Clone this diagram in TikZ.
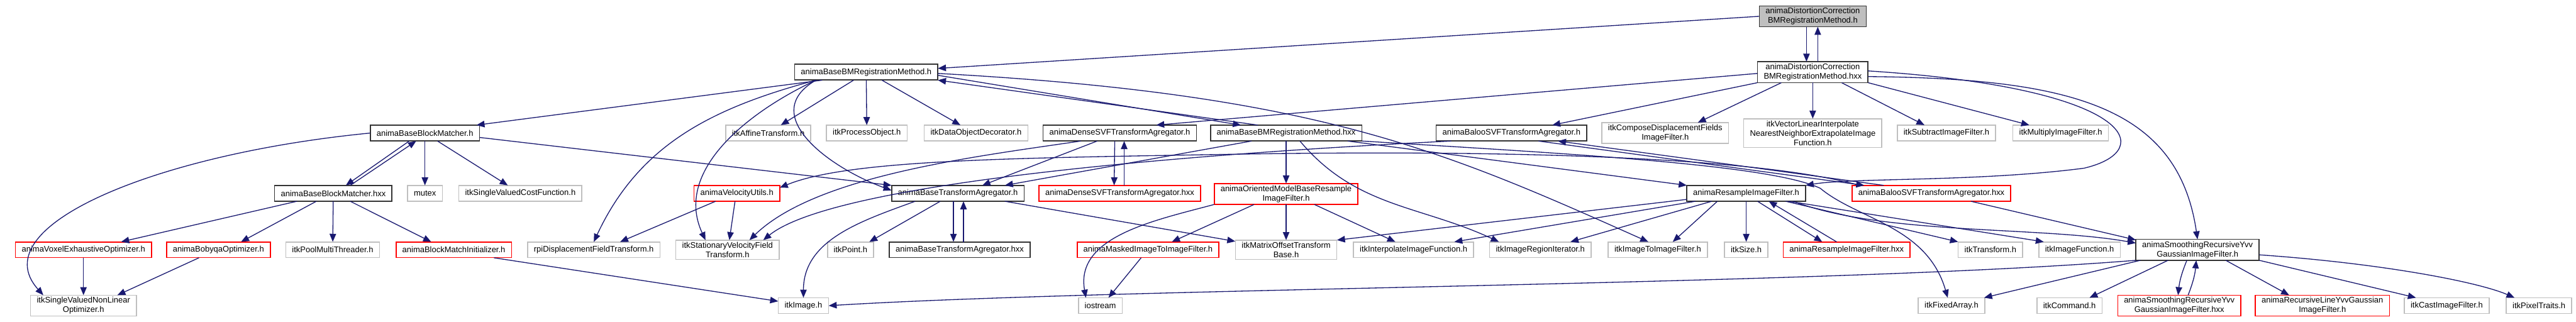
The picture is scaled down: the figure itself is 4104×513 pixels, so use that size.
\documentclass[tikz,border=0pt]{standalone}
\usepackage{fontspec}
\setmainfont{Liberation Sans}
\usetikzlibrary{arrows.meta}

\definecolor{edgeblue}{HTML}{191970}
\definecolor{extgray}{HTML}{BFBFBF}
\definecolor{rootgray}{HTML}{BFBFBF}

\begin{document}
\begin{tikzpicture}[x=1pt,y=1pt,scale=0.25,every node/.style={transform shape}]
\tikzset{
  filenode/.style={draw,line width=0.4pt,minimum height=25pt,inner xsep=10pt,inner ysep=3pt,
    font=\fontsize{13}{15}\selectfont,align=center,fill=white},
  rootnode/.style={filenode,fill=rootgray,draw=black!80},
  mainnode/.style={filenode,draw=black!80},
  extnode/.style={filenode,draw=extgray},
  cutnode/.style={filenode,draw=red},
  inc/.style={draw=edgeblue,line width=0.33pt,-{Triangle[length=3.2pt,width=2.6pt]}}
}
\useasboundingbox (0,0) rectangle (4104,-513);

% row 0 and 1
\node[rootnode] (n_dch) at (2888,-26) {animaDistortionCorrection\\BMRegistrationMethod.h};
\node[mainnode] (n_dchxx) at (2888,-115) {animaDistortionCorrection\\BMRegistrationMethod.hxx};
\node[mainnode] (n_basebmh) at (1380,-115) {animaBaseBMRegistrationMethod.h};

% row 2
\node[mainnode] (n_bbmh) at (677,-212) {animaBaseBlockMatcher.h};
\node[extnode] (n_affine) at (1224,-212) {itkAffineTransform.h};
\node[extnode] (n_procobj) at (1381,-212) {itkProcessObject.h};
\node[extnode] (n_dataobj) at (1555,-212) {itkDataObjectDecorator.h};
\node[mainnode] (n_densesvfh) at (1784,-212) {animaDenseSVFTransformAgregator.h};
\node[mainnode] (n_basebmhxx) at (2049,-212) {animaBaseBMRegistrationMethod.hxx};
\node[mainnode] (n_baloosvfh) at (2408,-212) {animaBalooSVFTransformAgregator.h};
\node[extnode] (n_compose) at (2653,-212) {itkComposeDisplacementFields\\ImageFilter.h};
\node[extnode] (n_vectorlin) at (2888,-212) {itkVectorLinearInterpolate\\NearestNeighborExtrapolateImage\\Function.h};
\node[extnode] (n_subtract) at (3101,-212) {itkSubtractImageFilter.h};
\node[extnode] (n_multiply) at (3283,-212) {itkMultiplyImageFilter.h};

% row 3
\node[mainnode] (n_bbmhxx) at (531,-308) {animaBaseBlockMatcher.hxx};
\node[extnode] (n_mutex) at (677,-308) {mutex};
\node[extnode] (n_costfn) at (829,-308) {itkSingleValuedCostFunction.h};
\node[cutnode] (n_velutils) at (1174,-308) {animaVelocityUtils.h};
\node[mainnode] (n_basetah) at (1526,-308) {animaBaseTransformAgregator.h};
\node[cutnode] (n_densesvfhxx) at (1784,-308) {animaDenseSVFTransformAgregator.hxx};
\node[cutnode] (n_oriented) at (2049,-309) {animaOrientedModelBaseResample\\ImageFilter.h};
\node[mainnode] (n_resampleh) at (2782,-308) {animaResampleImageFilter.h};
\node[cutnode] (n_baloohxx) at (3077,-308) {animaBalooSVFTransformAgregator.hxx};

% row 4
\node[cutnode] (n_voxel) at (133,-398) {animaVoxelExhaustiveOptimizer.h};
\node[cutnode] (n_bobyqa) at (348,-398) {animaBobyqaOptimizer.h};
\node[extnode] (n_poolmt) at (530,-398) {itkPoolMultiThreader.h};
\node[cutnode] (n_bminit) at (723,-398) {animaBlockMatchInitializer.h};
\node[extnode] (n_rpi) at (946,-398) {rpiDisplacementFieldTransform.h};
\node[extnode] (n_svf) at (1159,-398) {itkStationaryVelocityField\\Transform.h};
\node[extnode] (n_point) at (1355,-398) {itkPoint.h};
\node[mainnode] (n_basetahxx) at (1529,-398) {animaBaseTransformAgregator.hxx};
\node[cutnode] (n_masked) at (1829,-398) {animaMaskedImageToImageFilter.h};
\node[extnode] (n_matrixoff) at (2049,-398) {itkMatrixOffsetTransform\\Base.h};
\node[extnode] (n_interp) at (2252,-398) {itkInterpolateImageFunction.h};
\node[extnode] (n_regioniter) at (2454,-398) {itkImageRegionIterator.h};
\node[extnode] (n_imgtoimg) at (2641,-398) {itkImageToImageFilter.h};
\node[extnode] (n_size) at (2782,-398) {itkSize.h};
\node[cutnode] (n_resamplehxx) at (2942,-398) {animaResampleImageFilter.hxx};
\node[extnode] (n_transform) at (3171,-398) {itkTransform.h};
\node[extnode] (n_imgfunc) at (3313,-398) {itkImageFunction.h};
\node[mainnode] (n_smoothh) at (3501,-398) {animaSmoothingRecursiveYvv\\GaussianImageFilter.h};

% row 5
\node[extnode] (n_nonlinopt) at (133,-487) {itkSingleValuedNonLinear\\Optimizer.h};
\node[extnode] (n_image) at (1280,-487) {itkImage.h};
\node[extnode] (n_iostream) at (1753,-487) {iostream};
\node[extnode] (n_fixedarray) at (3109,-487) {itkFixedArray.h};
\node[extnode] (n_command) at (3297,-487) {itkCommand.h};
\node[cutnode] (n_smoothhxx) at (3472,-487) {animaSmoothingRecursiveYvv\\GaussianImageFilter.hxx};
\node[cutnode] (n_recline) at (3700,-487) {animaRecursiveLineYvvGaussian\\ImageFilter.h};
\node[extnode] (n_cast) at (3898,-487) {itkCastImageFilter.h};
\node[extnode] (n_pixeltraits) at (4045,-487) {itkPixelTraits.h};

% includes of the distortion correction files
\draw[inc] ([xshift=-10pt]n_dch.south) -- ([xshift=-10pt]n_dchxx.north);
\draw[inc] ([xshift=8pt]n_dchxx.north) -- ([xshift=8pt]n_dch.south);
\draw[inc] (n_dch.west) -- ([yshift=6pt]n_basebmh.east);
\draw[inc] ([yshift=-2pt]n_dchxx.west) -- ([xshift=58pt]n_densesvfh.north);
\draw[inc] (n_dchxx.south west) -- ([xshift=65pt]n_baloosvfh.north);
\draw[inc] ([xshift=-50pt]n_dchxx.south) -- ([xshift=52pt]n_compose.north);
\draw[inc] (n_dchxx) -- (n_vectorlin);
\draw[inc] ([xshift=46pt]n_dchxx.south) -- ([xshift=-35pt]n_subtract.north);
\draw[inc] (n_dchxx.south east) -- ([xshift=-50pt]n_multiply.north);
\draw[inc] ([yshift=-7pt]n_dchxx.east) .. controls (3300,-125) and (3470,-170) .. (n_smoothh.north);
\draw[inc] ([yshift=2pt]n_dchxx.east) .. controls (3400,-140) and (3440,-240) .. (3320,-268)
  .. controls (3150,-290) and (2950,-283) .. (n_resampleh.north east);

% base block matching registration
\draw[inc] ([xshift=-70pt]n_basebmh.south) -- ([xshift=-5pt]n_bbmh.north east);
\draw[inc] ([xshift=-20pt]n_basebmh.south) -- ([xshift=20pt]n_affine.north);
\draw[inc] (n_basebmh) -- (n_procobj);
\draw[inc] ([xshift=25pt]n_basebmh.south) -- ([xshift=-25pt]n_dataobj.north);
\draw[inc] ([yshift=-5pt]n_basebmh.east) -- ([xshift=-72pt]n_basebmhxx.north);
\draw[inc] ([xshift=-45pt]n_basebmhxx.north) -- (n_basebmh.south east);
\draw[inc] ([xshift=-80pt]n_basebmh.south) to[out=195,in=65] (n_rpi.north);
\draw[inc] ([xshift=-80pt]n_basebmh.south) to[out=205,in=115] ([xshift=-35pt]n_svf.north);
\draw[inc] ([xshift=-80pt]n_basebmh.south) to[out=210,in=160,looseness=1.3] ([yshift=-8pt]n_basetah.north west);
\draw[inc] ([yshift=-2pt]n_basebmh.east) .. controls (2100,-150) and (2300,-240) .. ([xshift=-15pt]n_imgtoimg.north);

% block matcher
\draw[inc] ([xshift=-25pt]n_bbmh.south) -- ([xshift=20pt]n_bbmhxx.north);
\draw[inc] ([xshift=27pt]n_bbmhxx.north) -- ([xshift=-14pt]n_bbmh.south);
\draw[inc] (n_bbmh) -- (n_mutex);
\draw[inc] ([xshift=20pt]n_bbmh.south) -- ([xshift=-20pt]n_costfn.north);
\draw[inc] ([yshift=-7pt]n_bbmh.east) -- (n_basetah.north west);
\draw[inc] (n_bbmh.west) .. controls (250,-245) and (-30,-360) .. ([xshift=-64pt]n_nonlinopt.north);
\draw[inc] ([xshift=-58pt]n_bbmhxx.south) -- ([xshift=60pt]n_voxel.north);
\draw[inc] ([xshift=-27pt]n_bbmhxx.south) -- ([xshift=36pt]n_bobyqa.north);
\draw[inc] (n_bbmhxx) -- (n_poolmt);
\draw[inc] ([xshift=27pt]n_bbmhxx.south) -- ([xshift=-36pt]n_bminit.north);
\draw[inc] (n_voxel) -- (n_nonlinopt);
\draw[inc] ([xshift=-31pt]n_bobyqa.south) -- ([xshift=54pt]n_nonlinopt.north);
\draw[inc] ([xshift=64pt]n_bminit.south) -- ([yshift=7pt]n_image.west);

% transform agregators
\draw[inc] ([xshift=-34pt]n_velutils.south) -- ([xshift=42pt]n_rpi.north);
\draw[inc] ([xshift=-3pt]n_velutils.south) -- ([xshift=3pt]n_svf.north);
\draw[inc] ([xshift=-68pt]n_basetah.south) to[out=200,in=90] (n_image.north);
\draw[inc] ([xshift=-28pt]n_basetah.south) -- ([xshift=30pt]n_point.north);
\draw[inc] ([xshift=-7pt]n_basetah.south) -- ([xshift=-10pt]n_basetahxx.north);
\draw[inc] ([xshift=6pt]n_basetahxx.north) -- ([xshift=9pt]n_basetah.south);
\draw[inc] ([xshift=75pt]n_basetah.south) -- ([yshift=-2pt]n_matrixoff.north west);
\draw[inc] ([xshift=-36pt]n_densesvfh.south) -- ([xshift=39pt]n_basetah.north);
\draw[inc] ([xshift=-8pt]n_densesvfh.south) -- ([xshift=-9pt]n_densesvfhxx.north);
\draw[inc] ([xshift=7pt]n_densesvfhxx.north) -- ([xshift=7pt]n_densesvfh.south);
\draw[inc] ([xshift=-62pt]n_densesvfh.south) .. controls (1550,-250) and (1300,-280) .. ([xshift=35pt]n_svf.north);
\draw[inc] ([xshift=-96pt]n_baloosvfh.south) .. controls (1900,-245) and (1330,-290) .. ([xshift=57pt]n_svf.north);
\draw[inc] ([xshift=43pt]n_baloosvfh.south) -- ([xshift=-107pt]n_baloohxx.north);
\draw[inc] ([xshift=-76pt]n_baloohxx.north) -- ([xshift=74pt]n_baloosvfh.south);
\draw[inc] ([xshift=63pt]n_baloohxx.south) -- ([yshift=-1pt]n_smoothh.north west);
\draw[inc] ([xshift=12pt]n_baloohxx.north west) .. controls (2800,-250) and (2400,-238) .. (1950,-246)
  .. controls (1600,-252) and (1350,-255) .. ([yshift=9pt]n_velutils.east);

% registration implementation
\draw[inc] ([xshift=-55pt]n_basebmhxx.south) -- ([xshift=75pt]n_basetah.north);
\draw[inc] (n_basebmhxx) -- (n_oriented);
\draw[inc] ([xshift=22pt]n_basebmhxx.south) to[out=-50,in=155] ([xshift=-66pt]n_regioniter.north);
\draw[inc] ([xshift=98pt]n_basebmhxx.south) -- (n_resampleh.north west);
\draw[inc] (n_basebmhxx.south east) .. controls (2500,-245) and (2820,-262) .. (2900,-300)
  .. controls (2960,-350) and (3070,-360) .. ([xshift=-6pt]n_fixedarray.north);

% resampling
\draw[inc] (n_oriented.south west) to[out=195,in=100] ([xshift=-23pt]n_iostream.north);
\draw[inc] ([xshift=-51pt]n_oriented.south) -- ([xshift=38pt]n_masked.north);
\draw[inc] (n_oriented) -- (n_matrixoff);
\draw[inc] ([xshift=45pt]n_oriented.south) -- ([xshift=-29pt]n_interp.north);
\draw[inc] ([xshift=-11pt]n_masked.south) -- ([xshift=13pt]n_iostream.north);
\draw[inc] ([yshift=3pt]n_resampleh.south west) -- (n_matrixoff.north east);
\draw[inc] ([xshift=-81pt]n_resampleh.south) -- ([xshift=65pt]n_interp.north);
\draw[inc] ([xshift=-55pt]n_resampleh.south) -- ([xshift=48pt]n_regioniter.north);
\draw[inc] ([xshift=-46pt]n_resampleh.south) -- ([xshift=24pt]n_imgtoimg.north);
\draw[inc] (n_resampleh) -- (n_size);
\draw[inc] ([xshift=18pt]n_resampleh.south) -- ([xshift=-39pt]n_resamplehxx.north);
\draw[inc] ([xshift=-16pt]n_resamplehxx.north) -- ([xshift=36pt]n_resampleh.south);
\draw[inc] ([xshift=63pt]n_resampleh.south) -- (n_transform.north west);
\draw[inc] ([xshift=68pt]n_resampleh.south) -- ([xshift=-57pt]n_imgfunc.north);
\draw[inc] ([xshift=75pt]n_resampleh.south) .. controls (3000,-375) and (3250,-360) .. ([yshift=-6pt]n_smoothh.north west);

% smoothing filter
\draw[inc] (n_smoothh.south west) .. controls (2900,-455) and (1800,-458) .. (n_image.east);
\draw[inc] ([xshift=-91pt]n_smoothh.south) -- ([xshift=52pt]n_fixedarray.north);
\draw[inc] ([xshift=-47pt]n_smoothh.south) -- ([xshift=32pt]n_command.north);
\draw[inc] ([xshift=-17pt]n_smoothh.south) to[bend right=8] ([xshift=-2pt]n_smoothhxx.north);
\draw[inc] ([xshift=14pt]n_smoothhxx.north) to[bend right=8] ([xshift=-2pt]n_smoothh.south);
\draw[inc] ([xshift=45pt]n_smoothh.south) -- ([xshift=-53pt]n_recline.north);
\draw[inc] (n_smoothh.south east) -- ([xshift=-49pt]n_cast.north);
\draw[inc] ([yshift=-8pt]n_smoothh.east) .. controls (3800,-420) and (3950,-450) .. ([xshift=-39pt]n_pixeltraits.north);
\end{tikzpicture}
\end{document}
